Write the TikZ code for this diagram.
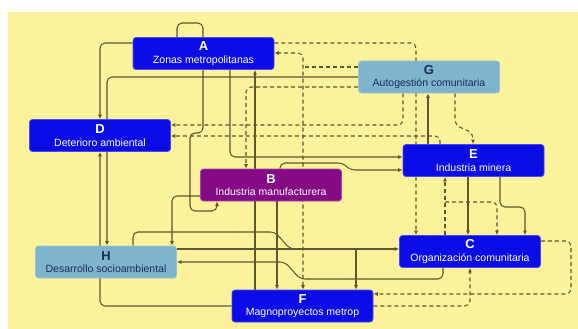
\documentclass[tikz,border=0pt]{standalone}
\usepackage{fontspec}
\setmainfont{Liberation Sans}
\usetikzlibrary{arrows.meta}

\definecolor{paper}{HTML}{FCF29B}
\definecolor{deepblue}{HTML}{0C0CE6}
\definecolor{plum}{HTML}{850A85}
\definecolor{skyish}{HTML}{7DB5CD}
\definecolor{wire}{HTML}{5C5830}
\definecolor{navytext}{HTML}{1C2C55}

\pgfdeclarelayer{paperlayer}
\pgfdeclarelayer{wirelayer}
\pgfsetlayers{paperlayer,wirelayer,main}

\tikzset{
  box/.style={rounded corners=3pt, minimum width=141pt, minimum height=32pt,
    inner sep=0pt, align=center, font=\fontsize{10.5}{11}\selectfont},
  bluebox/.style={box, fill=deepblue, draw=deepblue!75!white, line width=0.8pt, text=white},
  plumbox/.style={box, fill=plum, draw=plum!75!white, line width=0.8pt, text=white},
  skybox/.style={box, fill=skyish, draw=skyish!80!white, line width=0.8pt, text=navytext},
  plain/.style={draw=wire, line width=1.05pt, rounded corners=5pt},
  conn/.style={plain, -{Latex[length=4.5pt,width=4pt]}},
  dconn/.style={conn, dash pattern=on 4pt off 3pt},
  dplain/.style={plain, dash pattern=on 4pt off 3pt},
  twoway/.style={dconn, {Latex[length=4.5pt,width=4pt]}-{Latex[length=4.5pt,width=4pt]}}
}
\newcommand{\boxtext}[2]{{\bfseries\fontsize{13}{13}\selectfont #1}\\[1.5pt]#2}

\begin{document}
\begin{tikzpicture}[x=1pt,y=-1pt]
\useasboundingbox (0,0) rectangle (578,329);

% paper
\begin{pgfonlayer}{paperlayer}
  \fill[white] (0,0) rectangle (578,329);
  \fill[paper] (8,12) rectangle (578,329);
\end{pgfonlayer}

% boxes
\node[bluebox] (A) at (203.5,53.5) {\boxtext{A}{Zonas metropolitanas}};
\node[skybox]  (G) at (429,77)     {\boxtext{G}{Autogestión comunitaria}};
\node[bluebox] (D) at (100,135.5)  {\boxtext{D}{Deterioro ambiental}};
\node[bluebox] (E) at (473.5,160.5){\boxtext{E}{Industria minera}};
\node[plumbox] (B) at (271,185)    {\boxtext{B}{Industria manufacturera}};
\node[skybox]  (H) at (106,262)    {\boxtext{H}{Desarrollo socioambiental}};
\node[bluebox] (C) at (470,251.5)  {\boxtext{C}{Organización comunitaria}};
\node[bluebox] (F) at (302.5,306)  {\boxtext{F}{Magnoproyectos metrop}};

\coordinate (hc) at (356,249);
\coordinate (ce) at (445,202);
\coordinate (gf) at (303,67);

\begin{pgfonlayer}{wirelayer}
  % solid links
  \draw[conn] (A.west |- 0,43) -- (100,43) -- (D.north -| 100,0);
  \draw[conn] (F.west |- 0,306) -- (100,306) -- (D.south -| 100,0);
  \draw[conn] (G.west |- 0,77) -- (107,77) -- (H.north -| 107,0);
  \draw[conn] (A.north -| 177,0) -- (177,23) -- (203,23) -- (203,133)
              -- (190,133) -- (190,211) -- (217,211) -- (B.south -| 217,0);
  \draw[conn] (A.south -| 230,0) -- (230,157) -- (E.west |- 0,157);
  \draw[conn] (B.north -| 280,0) -- (280,163) -- (343,163) -- (350,170) -- (E.west |- 0,170);
  \draw[conn] (F.north -| 255,0) -- (A.south -| 255,0);
  \draw[conn] (B.south -| 277,0) -- (F.north -| 277,0);
  \draw[conn] (H.east |- 0,249) -- (C.west |- 0,249);
  \draw[conn] (hc) -- (F.north -| 356,0);
  \draw[conn] (C.south -| 443,0) -- (443,279) -- (300,279) -- (285,262) -- (H.east |- 0,262);
  \draw[plain] (H.north -| 133,0) -- (133,232) -- (275,232) -- (290,249) -- (hc);
  \draw[conn] (B.west |- 0,196) -- (172,196) -- (H.north -| 172,0);
  \draw[conn] (E.north -| 428,0) -- (G.south -| 428,0);
  \draw[conn] (E.south -| 468,0) -- (C.north -| 468,0);
  \draw[conn] (E.south -| 500,0) -- (500,207) -- (525,207) -- (C.north -| 525,0);

  % dashed links
  \draw[dconn] (A.east |- 0,43) -- (416,43) -- (C.north -| 416,0);
  \draw[twoway] (F.north -| 303,0) -- (303,53) -- (A.east |- 0,53);
  \draw[dplain] (G.west |- 0,67) -- (gf);
  \draw[dconn] (G.south -| 403,0) -- (403,125) -- (D.east |- 0,125);
  \draw[dconn] (E.north -| 440,0) -- (440,136) -- (D.east |- 0,136);
  \draw[dconn] (G.west |- 0,87) -- (246,87) -- (B.north -| 246,0);
  \draw[dconn] (G.south -| 455,0) -- (455,125) -- (473,133) -- (E.north -| 473,0);
  \draw[dconn] (C.north -| 445,0) -- (E.south -| 445,0);
  \draw[dconn] (ce) -- (497,202) -- (C.north -| 497,0);
  \draw[dconn] (C.east |- 0,241) -- (571,241) -- (571,294) -- (F.east |- 0,294);
  \draw[dconn] (F.east |- 0,306) -- (470,306) -- (C.south -| 470,0);
\end{pgfonlayer}
\end{tikzpicture}
\end{document}
